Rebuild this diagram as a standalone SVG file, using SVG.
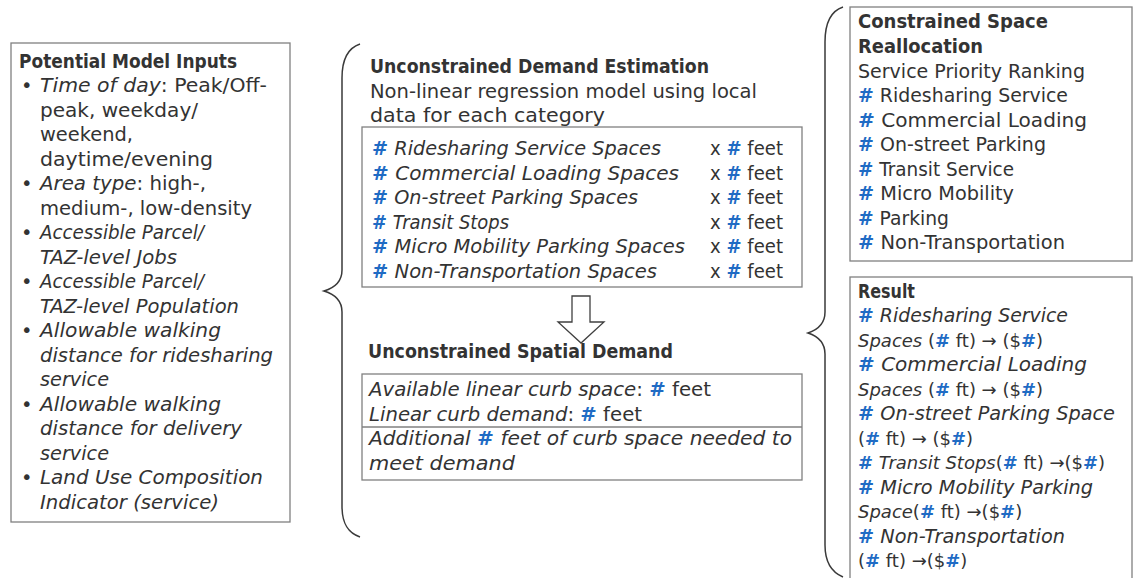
<svg xmlns="http://www.w3.org/2000/svg" width="1133" height="578" viewBox="0 0 1133 578">
  <defs>
    <style>
      .t { font-family: "DejaVu Sans", "Liberation Sans", sans-serif; font-size: 19.5px; fill: #333333; }
      .s { font-size: 18px; }
      .b { font-weight: bold; }
      .i { font-style: italic; }
      .h { fill: #1f6bc4; font-weight: bold; font-style: normal; }
      .box { fill: #ffffff; stroke: #808080; stroke-width: 1.3; }
      .rule { stroke: #808080; stroke-width: 1.3; }
      .brace { fill: none; stroke: #3a3a3a; stroke-width: 1.5; }
      .blk { fill: #ffffff; stroke: #404040; stroke-width: 1.3; }
    </style>
  </defs>
  <rect width="1133" height="578" fill="#ffffff"/>

  <!-- Input list -->
  <g id="inputs" class="t">
    <rect class="box" x="11" y="43" width="279" height="479"/>
    <text class="b" x="19" y="68" textLength="218" lengthAdjust="spacingAndGlyphs">Potential Model Inputs</text>
    <text x="21" y="92">•</text>
    <text x="40" y="92" textLength="227" lengthAdjust="spacingAndGlyphs"><tspan class="i">Time of day</tspan>: Peak/Off-</text>
    <text x="40" y="116.5" textLength="158" lengthAdjust="spacingAndGlyphs">peak, weekday/</text>
    <text x="40" y="141" textLength="93" lengthAdjust="spacingAndGlyphs">weekend,</text>
    <text x="40" y="165.5" textLength="173" lengthAdjust="spacingAndGlyphs">daytime/evening</text>
    <text x="21" y="190">•</text>
    <text x="40" y="190" textLength="166" lengthAdjust="spacingAndGlyphs"><tspan class="i">Area type</tspan>: high-,</text>
    <text x="40" y="214.5" textLength="212" lengthAdjust="spacingAndGlyphs">medium-, low-density</text>
    <text x="21" y="239">•</text>
    <text class="i" x="40" y="239" textLength="164" lengthAdjust="spacingAndGlyphs">Accessible Parcel/</text>
    <text class="i" x="40" y="263.5" textLength="137" lengthAdjust="spacingAndGlyphs">TAZ-level Jobs</text>
    <text x="21" y="288">•</text>
    <text class="i" x="40" y="288" textLength="164" lengthAdjust="spacingAndGlyphs">Accessible Parcel/</text>
    <text class="i" x="40" y="312.5" textLength="199" lengthAdjust="spacingAndGlyphs">TAZ-level Population</text>
    <text x="21" y="337">•</text>
    <text class="i" x="40" y="337" textLength="181" lengthAdjust="spacingAndGlyphs">Allowable walking</text>
    <text class="i" x="40" y="361.5" textLength="233" lengthAdjust="spacingAndGlyphs">distance for ridesharing</text>
    <text class="i" x="40" y="386" textLength="69" lengthAdjust="spacingAndGlyphs">service</text>
    <text x="21" y="410.5">•</text>
    <text class="i" x="40" y="410.5" textLength="181" lengthAdjust="spacingAndGlyphs">Allowable walking</text>
    <text class="i" x="40" y="435" textLength="202" lengthAdjust="spacingAndGlyphs">distance for delivery</text>
    <text class="i" x="40" y="459.5" textLength="69" lengthAdjust="spacingAndGlyphs">service</text>
    <text x="21" y="484">•</text>
    <text class="i" x="40" y="484" textLength="223" lengthAdjust="spacingAndGlyphs">Land Use Composition</text>
    <text class="i" x="40" y="508.5" textLength="179" lengthAdjust="spacingAndGlyphs">Indicator (service)</text>
  </g>

  <!-- Connectors: grouping braces and the block arrow -->
  <g id="connectors">
    <path class="brace" d="M360,44 C348,48 342,60 342,78 L342,270 C342,282 334,288 324,291 C334,294 342,300 342,312 L342,506 C342,524 348,533 360,537"/>
    <path class="brace" d="M843,7 C831,11 825,24 825,42 L825,312 C825,324 817,330 808,333 C817,336 825,342 825,354 L825,545 C825,562 831,572 843,577"/>
    <path class="blk" d="M572,296 L590,296 L590,322 L604,322 L581,343 L558,322 L572,322 Z"/>
  </g>

  <!-- Demand estimation -->
  <g id="demand-estimation" class="t">
    <text class="b" x="370" y="73" textLength="339" lengthAdjust="spacingAndGlyphs">Unconstrained Demand Estimation</text>
    <text x="370" y="97.5" textLength="387" lengthAdjust="spacingAndGlyphs">Non-linear regression model using local</text>
    <text x="370" y="122" textLength="235" lengthAdjust="spacingAndGlyphs">data for each category</text>
    <rect class="box" x="362" y="127" width="440" height="160"/>
    <text x="372" y="155" textLength="289" lengthAdjust="spacingAndGlyphs"><tspan class="h">#</tspan><tspan class="i"> Ridesharing Service Spaces</tspan></text>
    <text x="372" y="179.5" textLength="307" lengthAdjust="spacingAndGlyphs"><tspan class="h">#</tspan><tspan class="i"> Commercial Loading Spaces</tspan></text>
    <text x="372" y="204" textLength="266" lengthAdjust="spacingAndGlyphs"><tspan class="h">#</tspan><tspan class="i"> On-street Parking Spaces</tspan></text>
    <text x="372" y="228.5" textLength="137" lengthAdjust="spacingAndGlyphs"><tspan class="h">#</tspan><tspan class="i"> Transit Stops</tspan></text>
    <text x="372" y="253" textLength="313" lengthAdjust="spacingAndGlyphs"><tspan class="h">#</tspan><tspan class="i"> Micro Mobility Parking Spaces</tspan></text>
    <text x="372" y="277.5" textLength="285" lengthAdjust="spacingAndGlyphs"><tspan class="h">#</tspan><tspan class="i"> Non-Transportation Spaces</tspan></text>
    <text x="710" y="155" textLength="73" lengthAdjust="spacingAndGlyphs">x <tspan class="h">#</tspan> feet</text>
    <text x="710" y="179.5" textLength="73" lengthAdjust="spacingAndGlyphs">x <tspan class="h">#</tspan> feet</text>
    <text x="710" y="204" textLength="73" lengthAdjust="spacingAndGlyphs">x <tspan class="h">#</tspan> feet</text>
    <text x="710" y="228.5" textLength="73" lengthAdjust="spacingAndGlyphs">x <tspan class="h">#</tspan> feet</text>
    <text x="710" y="253" textLength="73" lengthAdjust="spacingAndGlyphs">x <tspan class="h">#</tspan> feet</text>
    <text x="710" y="277.5" textLength="73" lengthAdjust="spacingAndGlyphs">x <tspan class="h">#</tspan> feet</text>
  </g>

  <!-- Spatial demand -->
  <g id="spatial-demand" class="t">
    <text class="b" x="368" y="358" textLength="305" lengthAdjust="spacingAndGlyphs">Unconstrained Spatial Demand</text>
    <rect class="box" x="362" y="374" width="440" height="106"/>
    <line class="rule" x1="362" y1="427" x2="802" y2="427"/>
    <text x="369" y="396" textLength="342" lengthAdjust="spacingAndGlyphs"><tspan class="i">Available linear curb space</tspan>: <tspan class="h">#</tspan> feet</text>
    <text x="369" y="420.5" textLength="273" lengthAdjust="spacingAndGlyphs"><tspan class="i">Linear curb demand</tspan>: <tspan class="h">#</tspan> feet</text>
    <text x="369" y="445" textLength="423" lengthAdjust="spacingAndGlyphs"><tspan class="i">Additional </tspan><tspan class="h">#</tspan><tspan class="i"> feet of curb space needed to</tspan></text>
    <text class="i" x="369" y="469.5" textLength="146" lengthAdjust="spacingAndGlyphs">meet demand</text>
  </g>

  <!-- Constrained reallocation -->
  <g id="reallocation" class="t">
    <rect class="box" x="850" y="7" width="282" height="254"/>
    <text class="b" x="858" y="28" textLength="190" lengthAdjust="spacingAndGlyphs">Constrained Space</text>
    <text class="b" x="858" y="53" textLength="125" lengthAdjust="spacingAndGlyphs">Reallocation</text>
    <text x="858" y="78" textLength="227" lengthAdjust="spacingAndGlyphs">Service Priority Ranking</text>
    <text x="858" y="102" textLength="210" lengthAdjust="spacingAndGlyphs"><tspan class="h">#</tspan> Ridesharing Service</text>
    <text x="858" y="127" textLength="229" lengthAdjust="spacingAndGlyphs"><tspan class="h">#</tspan> Commercial Loading</text>
    <text x="858" y="151" textLength="188" lengthAdjust="spacingAndGlyphs"><tspan class="h">#</tspan> On-street Parking</text>
    <text x="858" y="176" textLength="156" lengthAdjust="spacingAndGlyphs"><tspan class="h">#</tspan> Transit Service</text>
    <text x="858" y="200" textLength="156" lengthAdjust="spacingAndGlyphs"><tspan class="h">#</tspan> Micro Mobility</text>
    <text x="858" y="225" textLength="91" lengthAdjust="spacingAndGlyphs"><tspan class="h">#</tspan> Parking</text>
    <text x="858" y="249" textLength="207" lengthAdjust="spacingAndGlyphs"><tspan class="h">#</tspan> Non-Transportation</text>
  </g>

  <!-- Result -->
  <g id="result" class="t">
    <rect class="box" x="850" y="277" width="282" height="320"/>
    <text class="b" x="858" y="298" textLength="57" lengthAdjust="spacingAndGlyphs">Result</text>
    <text x="858" y="322" textLength="210" lengthAdjust="spacingAndGlyphs"><tspan class="h">#</tspan><tspan class="i"> Ridesharing Service</tspan></text>
    <text class="s" x="858" y="347"><tspan class="i">Spaces</tspan> (<tspan class="h">#</tspan> ft) → ($<tspan class="h">#</tspan>)</text>
    <text x="858" y="371" textLength="229" lengthAdjust="spacingAndGlyphs"><tspan class="h">#</tspan><tspan class="i"> Commercial Loading</tspan></text>
    <text class="s" x="858" y="396"><tspan class="i">Spaces</tspan> (<tspan class="h">#</tspan> ft) → ($<tspan class="h">#</tspan>)</text>
    <text x="858" y="420" textLength="257" lengthAdjust="spacingAndGlyphs"><tspan class="h">#</tspan><tspan class="i"> On-street Parking Space</tspan></text>
    <text class="s" x="858" y="445">(<tspan class="h">#</tspan> ft) → ($<tspan class="h">#</tspan>)</text>
    <text class="s" x="858" y="469"><tspan class="h">#</tspan><tspan class="i"> Transit Stops</tspan>(<tspan class="h">#</tspan> ft) →($<tspan class="h">#</tspan>)</text>
    <text x="858" y="494" textLength="235" lengthAdjust="spacingAndGlyphs"><tspan class="h">#</tspan><tspan class="i"> Micro Mobility Parking</tspan></text>
    <text class="s" x="858" y="518"><tspan class="i">Space</tspan>(<tspan class="h">#</tspan> ft) →($<tspan class="h">#</tspan>)</text>
    <text x="858" y="543" textLength="207" lengthAdjust="spacingAndGlyphs"><tspan class="h">#</tspan><tspan class="i"> Non-Transportation</tspan></text>
    <text class="s" x="858" y="567">(<tspan class="h">#</tspan> ft) →($<tspan class="h">#</tspan>)</text>
  </g>
</svg>
